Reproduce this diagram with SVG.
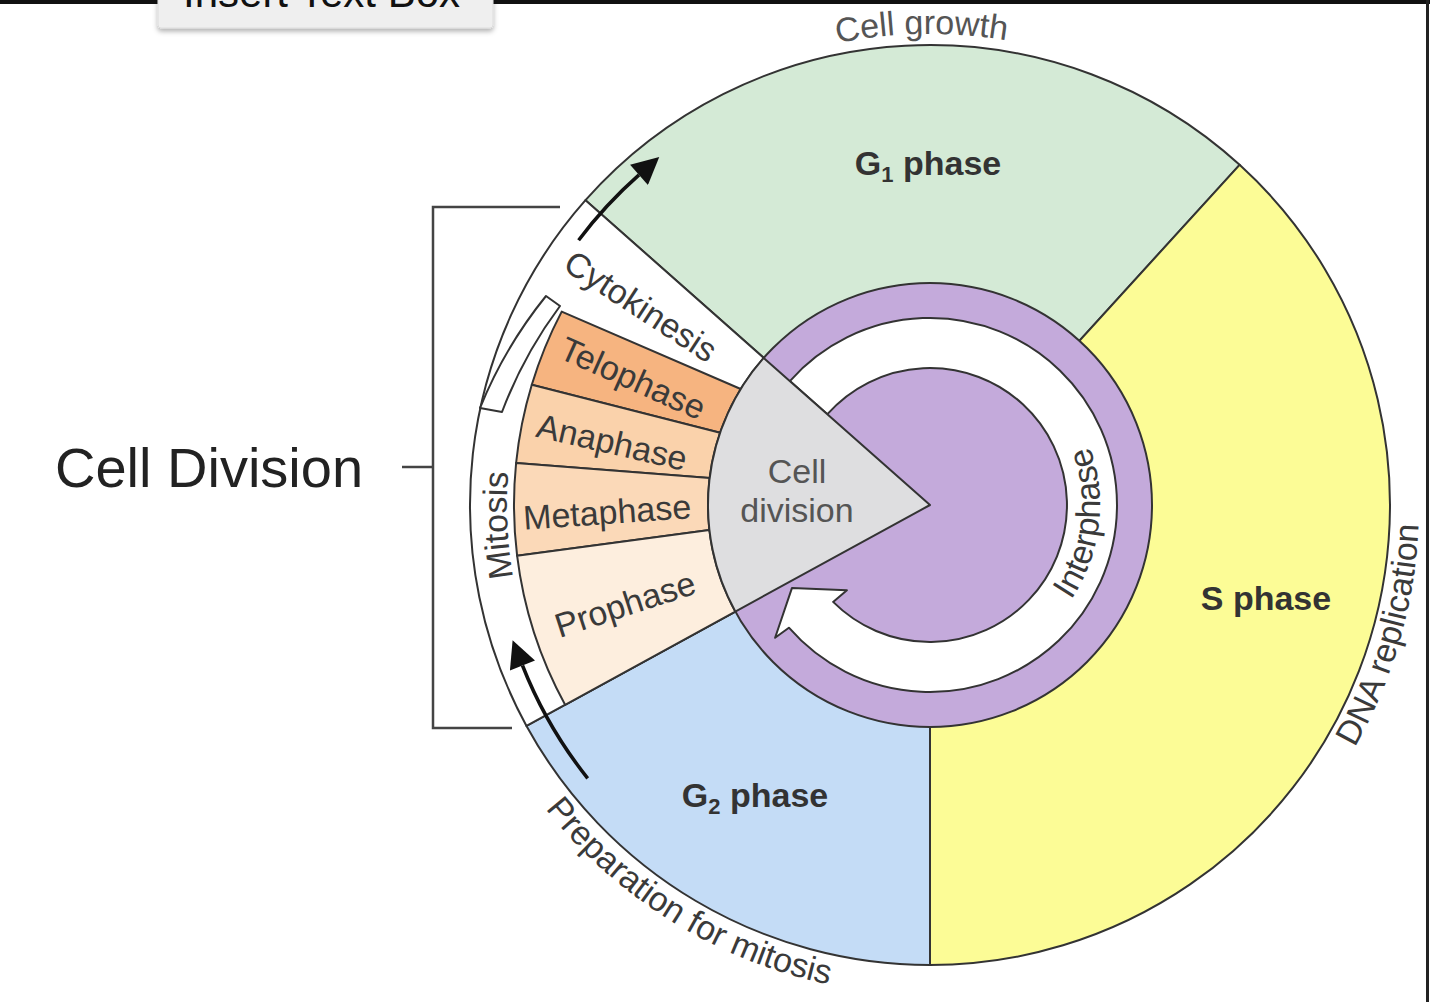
<svg xmlns="http://www.w3.org/2000/svg" width="1440" height="1002" viewBox="0 0 1440 1002">
<style>
.sec{stroke:#333;stroke-width:2;stroke-linejoin:round}
.lbl{font-family:"Liberation Sans",Arial,sans-serif;font-size:34px;fill:#3a3a3a}
.b{font-weight:bold;fill:#333}
.soft{fill:#555}
.arrow{fill:none;stroke:#111;stroke-width:3.5;marker-end:url(#ah)}
.brk{fill:none;stroke:#444;stroke-width:2.5}
</style>
<defs>
<marker id="ah" viewBox="0 0 10 10" refX="0" refY="5" markerWidth="30" markerHeight="27" markerUnits="userSpaceOnUse" orient="auto"><path d="M0,0 L10,5 L0,10 Z" fill="#111"/></marker>
<filter id="sh" x="-10%" y="-50%" width="120%" height="220%"><feDropShadow dx="0" dy="3" stdDeviation="2.5" flood-color="#000" flood-opacity="0.3"/></filter>
<path id="pCellGrowth" d="M627.2,144.2 A471,471 0 0 1 1220.0,133.8"/>
<path id="pDNA" d="M1275.8,850.8 A489,489 0 0 0 1406.5,395.0"/>
<path id="pPrep" d="M469.5,672.6 A490,490 0 0 0 984.6,992.0"/>
<path id="pInter" d="M1039.3,635.2 A170,170 0 0 0 1067.2,404.6"/>
<path id="pMitosis" d="M563.7,716.5 A423,423 0 0 1 545.4,328.9"/>
</defs>
<rect width="1440" height="1002" fill="#fff"/>
<g id="frame">
<rect x="0" y="0" width="1430" height="4" fill="#111"/>
<rect x="1426" y="0" width="3" height="1002" fill="#222"/>
</g>
<g id="insert-text-box">
<rect x="158" y="-8" width="335" height="36" rx="3" fill="#efefef" stroke="#dcdcdc" filter="url(#sh)"/>
<text x="183" y="7" font-family="Liberation Sans,Arial,sans-serif" font-size="42" fill="#111">Insert Text Box</text>
</g>
<g id="g1-phase">
<path class="sec" d="M930,505 L1239.6,164.8 A460,460 0 0 0 585.5,200.2 Z" fill="#d4ead6"/>
</g>
<g id="s-phase">
<path class="sec" d="M930,505 L930,965 A460,460 0 0 0 1239.6,164.8 Z" fill="#fcfc96"/>
</g>
<g id="g2-phase">
<path class="sec" d="M930,505 L526.5,725.9 A460,460 0 0 0 930,965 Z" fill="#c4dcf6"/>
</g>
<g id="cytokinesis">
<path class="sec" d="M930,505 L585.5,200.2 A460,460 0 0 0 526.5,725.9 Z" fill="#fff"/>
</g>
<g id="telophase">
<path class="sec" d="M740.7,389.0 L561.7,311.6 A416,416 0 0 0 531.8,384.8 L720.1,432.7 Z" fill="#f6b480"/>
</g>
<g id="anaphase">
<path class="sec" d="M720.1,432.7 L531.8,384.8 A416,416 0 0 0 516.1,463.0 L709.7,477.9 Z" fill="#fad2ab"/>
</g>
<g id="metaphase">
<path class="sec" d="M709.7,477.9 L516.1,463.0 A416,416 0 0 0 517.1,555.7 L709.4,530.1 Z" fill="#fbd9b8"/>
</g>
<g id="prophase">
<path class="sec" d="M709.4,530.1 L517.1,555.7 A416,416 0 0 0 565.1,704.8 L735.3,611.6 Z" fill="#fdeede"/>
</g>
<g id="interphase">
<circle class="sec" cx="930" cy="505" r="222" fill="#c4aadb"/>
<path class="sec" d="M789.9,381.1 A187,187 0 1 1 788.9,627.7 L775.1,637.8 L792.0,587.9 L846.9,590.2 L833.1,601.9 A137,137 0 1 0 827.4,414.2 Z" fill="#fff"/>
<text class="lbl"><textPath href="#pInter" startOffset="50%" text-anchor="middle">Interphase</textPath></text>
</g>
<g id="cell-division">
<path class="sec" d="M930,505 L763.7,357.9 A222,222 0 0 0 735.3,611.6 Z" fill="#dedee0"/>
<text class="lbl soft" x="797" y="483" text-anchor="middle" font-size="33">Cell</text>
<text class="lbl soft" x="797" y="522" text-anchor="middle" font-size="33">division</text>
</g>
<g id="mitosis-bracket">
<path class="sec" d="M546,296 Q504.7,347.1 480,408 L502,412 Q523.5,354.9 560,306 Z" fill="#fff"/>
<text class="lbl"><textPath href="#pMitosis" startOffset="50%" text-anchor="middle">Mitosis</textPath></text>
</g>
<g id="labels">
<text class="lbl soft"><textPath href="#pCellGrowth" startOffset="50%" text-anchor="middle">Cell growth</textPath></text>
<text class="lbl"><textPath href="#pDNA" startOffset="50%" text-anchor="middle">DNA replication</textPath></text>
<text class="lbl"><textPath href="#pPrep" startOffset="50%" text-anchor="middle">Preparation for mitosis</textPath></text>
<text class="lbl b" x="928" y="175" text-anchor="middle">G<tspan font-size="22" dy="7">1</tspan><tspan dy="-7"> phase</tspan></text>
<text class="lbl b" x="1266" y="610" text-anchor="middle">S phase</text>
<text class="lbl b" x="755" y="807" text-anchor="middle">G<tspan font-size="22" dy="7">2</tspan><tspan dy="-7"> phase</tspan></text>
<text class="lbl" transform="translate(641,306) rotate(33)" y="12" text-anchor="middle">Cytokinesis</text>
<text class="lbl" transform="translate(633,378) rotate(24)" y="12" text-anchor="middle">Telophase</text>
<text class="lbl" transform="translate(612,442) rotate(13)" y="12" text-anchor="middle">Anaphase</text>
<text class="lbl" transform="translate(607,512) rotate(-4)" y="12" text-anchor="middle">Metaphase</text>
<text class="lbl" transform="translate(625,604) rotate(-18)" y="12" text-anchor="middle">Prophase</text>
</g>
<g id="cell-division-label">
<text x="55" y="487" font-family="Liberation Sans,Arial,sans-serif" font-size="56" fill="#222">Cell Division</text>
</g>
<g id="connectors">
<path class="arrow" d="M578.6,240.2 A440,440 0 0 1 639.0,174.9"/>
<path class="arrow" d="M587.7,778.3 A438,438 0 0 1 522.5,665.5"/>
<path class="brk" d="M560,207 H433 V728 H512"/>
<path class="brk" d="M402,467 H433"/>
</g>
</svg>
